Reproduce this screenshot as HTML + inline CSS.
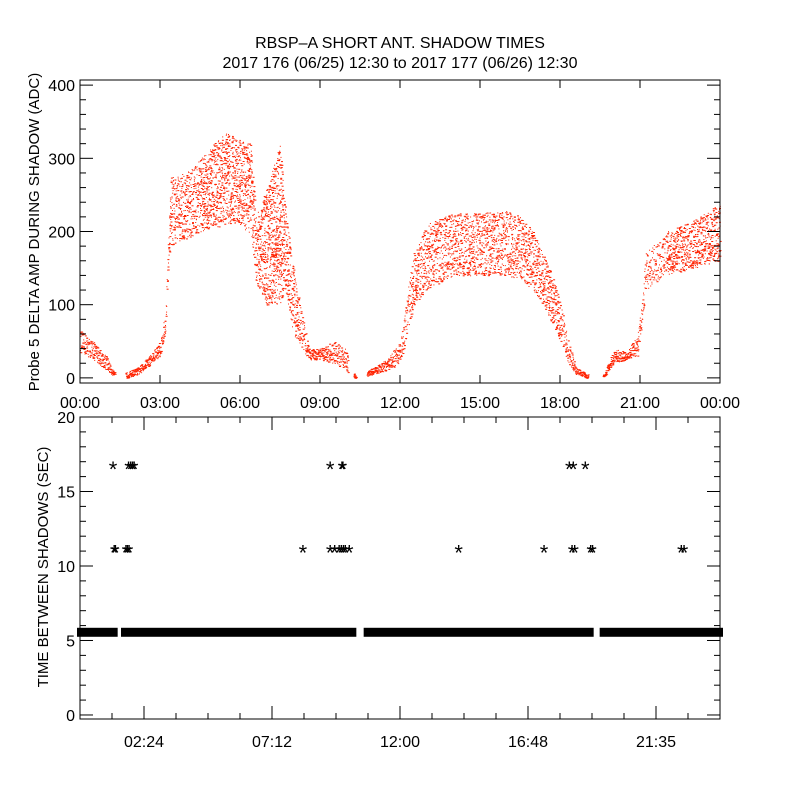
<!DOCTYPE html>
<html><head><meta charset="utf-8"><style>
body{margin:0;background:#fff;}
svg{display:block;font-family:"Liberation Sans",sans-serif;}
text{fill:#000;}
</style></head><body>
<svg id="chart" width="800" height="800" viewBox="0 0 800 800">
<rect width="800" height="800" fill="#fff"/>
<text x="400" y="48" font-size="16" text-anchor="middle">RBSP–A SHORT ANT. SHADOW TIMES</text>
<text x="400" y="68" font-size="16" text-anchor="middle">2017 176 (06/25) 12:30 to 2017 177 (06/26) 12:30</text>
<g id="topPanel"></g>
<g id="botPanel"></g>
</svg>
<script>
// ---- data: top panel envelope (hour, low ADC, high ADC) ----
const envHours = [0,0.5,1.0,1.25,1.75,2.2,2.7,3.0,3.2,3.3,3.4,4.0,4.5,5.0,5.5,6.0,6.4,6.6,7.0,7.5,7.7,8.0,8.3,8.6,9.0,9.5,9.95,10.3,10.8,11.5,12.0,12.2,12.5,13.0,14.0,15.0,16.0,16.5,17.0,17.5,18.0,18.3,18.6,19.0,19.65,20.0,20.5,20.9,21.1,21.2,22.0,23.0,24.0];
const envLow   = [35,25,10,3,0,5,20,30,60,150,180,190,200,205,210,210,195,130,100,100,120,60,40,25,25,20,10,0,3,10,20,50,100,120,140,140,140,135,120,90,50,20,5,0,0,20,25,30,80,120,140,150,160];
const envHigh  = [65,50,30,8,8,15,35,50,90,190,275,280,300,320,335,325,320,220,260,320,230,150,90,40,40,50,40,3,10,25,50,100,170,210,225,225,230,220,200,160,110,50,15,5,5,40,35,60,110,170,200,215,240];
const envGaps  = [[1.3,1.7],[10.05,10.25],[10.35,10.75],[19.05,19.6]];
// ---- data: bottom panel ----
const baseValue = 5.55;
const baseSegments = [[0,1.3],[1.65,10.25],[10.75,19.15],[19.6,24]];
const midHours = [1.28,1.33,1.72,1.78,1.84,8.36,9.38,9.55,9.72,9.8,9.88,9.95,10.1,14.2,17.4,18.45,18.55,19.15,19.22,22.55,22.65];
const midValue = 11.1;
const highHours = [1.24,1.82,1.9,1.97,2.03,9.38,9.82,9.86,18.35,18.5,18.95];
const highValue = 16.7;
const topYTicks = [0,100,200,300,400];
const topXTicks = ["00:00","03:00","06:00","09:00","12:00","15:00","18:00","21:00","00:00"];
const botYTicks = [0,5,10,15,20];
const botXTicks = ["02:24","07:12","12:00","16:48","21:35"];

const NS="http://www.w3.org/2000/svg";
function mk(parent,tag,attrs,txt){const e=document.createElementNS(NS,tag);for(const k in attrs)e.setAttribute(k,attrs[k]);if(txt!==undefined)e.textContent=txt;parent.appendChild(e);return e;}
const X0=80,X1=720;
const xs=h=>X0+(X1-X0)*h/24;
const T0=80,T1=383,tyMin=-7,tyMax=407;
const ty=v=>T1-(v-tyMin)/(tyMax-tyMin)*(T1-T0);
const B0=417,B1=719,byMin=-0.27,byMax=20.0;
const by=v=>B1-(v-byMin)/(byMax-byMin)*(B1-B0);

const topPanel=document.getElementById('topPanel'), botPanel=document.getElementById('botPanel');

let seed=12345;function rnd(){seed=(seed*16807)%2147483647;return seed/2147483647;}
function interp(arr,h){for(let i=0;i<envHours.length-1;i++){if(h>=envHours[i]&&h<=envHours[i+1]){const t=(h-envHours[i])/(envHours[i+1]-envHours[i]);return arr[i]+t*(arr[i+1]-arr[i]);}}return arr[arr.length-1];}
const dots=mk(topPanel,'g',{fill:'#ff2200'});


for(let h=0;h<24;h+=0.006){
  if(envGaps.some(g=>h>g[0]&&h<g[1]))continue;
  const lo=interp(envLow,h),hi=interp(envHigh,h);
  const n=Math.max(1,Math.round((hi-lo)/40));
  for(let k=0;k<n;k++){
    const v=lo+(hi-lo)*rnd();
    mk(dots,'rect',{x:xs(h).toFixed(1),y:ty(v).toFixed(1),width:(rnd()<0.4?2:1),height:1});
  }
}
const tf=mk(topPanel,'rect',{x:X0,y:T0,width:X1-X0,height:T1-T0,fill:'none',stroke:'#000','stroke-width':1});


for(let v=0;v<=400;v+=20){const maj=v%100===0;const L=maj?13:6;
  mk(topPanel,'line',{x1:X0,x2:X0+L,y1:ty(v),y2:ty(v),stroke:'#000'});
  mk(topPanel,'line',{x1:X1,x2:X1-L,y1:ty(v),y2:ty(v),stroke:'#000'});}
topYTicks.forEach(v=>{const t=mk(topPanel,'text',{x:75,y:ty(v)+6,'font-size':16,'text-anchor':'end'},String(v));
  
  });
topXTicks.forEach((s,i)=>{const h=i*3;
  mk(topPanel,'line',{x1:xs(h),x2:xs(h),y1:T1,y2:T1-8,stroke:'#000'});
  mk(topPanel,'line',{x1:xs(h),x2:xs(h),y1:T0,y2:T0+8,stroke:'#000'});
  const t=mk(topPanel,'text',{x:xs(h),y:408,'font-size':16,'text-anchor':'middle'},s);
  
  });
const tyt=mk(topPanel,'text',{x:0,y:0,'font-size':15,'text-anchor':'middle',transform:'translate(39,232) rotate(-90)'},'Probe 5 DELTA AMP DURING SHADOW (ADC)');



const stars=mk(botPanel,'g',{'font-size':22,'text-anchor':'middle'});


baseSegments.forEach(s=>{const r=mk(botPanel,'rect',{x:xs(s[0])-3,y:by(baseValue)-4.5,width:xs(s[1])-xs(s[0])+6,height:9,fill:'#000'});
  
  });
midHours.forEach(h=>{const t=mk(stars,'text',{x:xs(h),y:by(midValue)+11},'*');
  
  });
highHours.forEach(h=>{const t=mk(stars,'text',{x:xs(h),y:by(highValue)+11},'*');
  
  });
const bf=mk(botPanel,'rect',{x:X0,y:B0,width:X1-X0,height:B1-B0,fill:'none',stroke:'#000'});


for(let v=0;v<=20;v+=1){const maj=v%5===0;const L=maj?13:6;
  mk(botPanel,'line',{x1:X0,x2:X0+L,y1:by(v),y2:by(v),stroke:'#000'});
  mk(botPanel,'line',{x1:X1,x2:X1-L,y1:by(v),y2:by(v),stroke:'#000'});}
for(let i=1;i<20;i++){const x=X0+i*32;const maj=(i-2)%4===0;const L=maj?13:6;
  mk(botPanel,'line',{x1:x,x2:x,y1:B1,y2:B1-L,stroke:'#000'});
  mk(botPanel,'line',{x1:x,x2:x,y1:B0,y2:B0+L,stroke:'#000'});}
botYTicks.forEach(v=>{const t=mk(botPanel,'text',{x:75,y:by(v)+6,'font-size':16,'text-anchor':'end'},String(v));
  
  });
botXTicks.forEach((s,i)=>{const x=X0+64+i*128;
  const t=mk(botPanel,'text',{x:x,y:747,'font-size':16,'text-anchor':'middle'},s);
  
  });
const byt=mk(botPanel,'text',{x:0,y:0,'font-size':15,'text-anchor':'middle',transform:'translate(48,567) rotate(-90)'},'TIME BETWEEN SHADOWS (SEC)');


</script>
</body></html>
